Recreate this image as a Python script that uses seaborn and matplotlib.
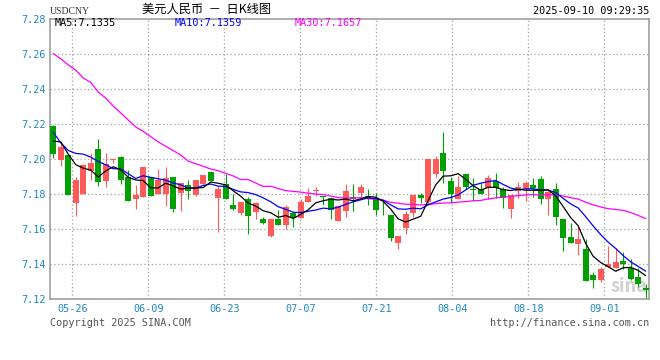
import numpy as np
import pandas as pd
import matplotlib
matplotlib.use("Agg")
import matplotlib.pyplot as plt
import seaborn as sns

# 日K 数据 (USDCNY, 读自图片)
opens = [7.2187, 7.1992, 7.2021, 7.1745, 7.1798, 7.1931, 7.2053, 7.1872, 7.1989, 7.2008,
         7.1893, 7.1768, 7.1779, 7.1893, 7.1796, 7.1798, 7.1897, 7.1804, 7.1846, 7.1790,
         7.1855, 7.1922, 7.1775, 7.1853, 7.1733, 7.1688, 7.1768, 7.1693, 7.1653, 7.1556,
         7.1653, 7.1621, 7.1691, 7.1661, 7.1750, 7.1817, 7.1785, 7.1773, 7.1644, 7.1699,
         7.1779, 7.1804, 7.1785, 7.1777, 7.1697, 7.1676, 7.1516, 7.1602, 7.1690, 7.1790,
         7.1750, 7.1912, 7.2030, 7.1870, 7.1770, 7.1910, 7.1827, 7.1825, 7.1832, 7.1874,
         7.1825, 7.1712, 7.1813, 7.1832, 7.1848, 7.1882, 7.1770, 7.1825, 7.1657, 7.1550,
         7.1512, 7.1482, 7.1333, 7.1303, 7.1379, 7.1375, 7.1417, 7.1375, 7.1322, 7.1261]
highs = [7.2190, 7.2084, 7.2021, 7.1897, 7.1968, 7.2030, 7.2110, 7.2030, 7.1998, 7.2012,
         7.1937, 7.1848, 7.1950, 7.1897, 7.1939, 7.1950, 7.1897, 7.1859, 7.1876, 7.1876,
         7.1905, 7.1931, 7.1842, 7.1910, 7.1796, 7.1750, 7.1779, 7.1749, 7.1665, 7.1653,
         7.1703, 7.1735, 7.1691, 7.1768, 7.1834, 7.1840, 7.1785, 7.1773, 7.1726, 7.1855,
         7.1857, 7.1855, 7.1825, 7.1802, 7.1764, 7.1676, 7.1556, 7.1701, 7.1790, 7.1802,
         7.2000, 7.2013, 7.2152, 7.1893, 7.1899, 7.1910, 7.1886, 7.1859, 7.1903, 7.1916,
         7.1836, 7.1794, 7.1863, 7.1870, 7.1888, 7.1899, 7.1825, 7.1859, 7.1657, 7.1630,
         7.1608, 7.1539, 7.1350, 7.1379, 7.1499, 7.1488, 7.1465, 7.1427, 7.1375, 7.1284]
lows = [7.2004, 7.1956, 7.1790, 7.1669, 7.1798, 7.1878, 7.1844, 7.1836, 7.1973, 7.1855,
        7.1756, 7.1710, 7.1779, 7.1785, 7.1796, 7.1728, 7.1695, 7.1701, 7.1770, 7.1785,
        7.1855, 7.1870, 7.1579, 7.1768, 7.1707, 7.1678, 7.1570, 7.1655, 7.1625, 7.1552,
        7.1621, 7.1598, 7.1611, 7.1661, 7.1750, 7.1787, 7.1735, 7.1655, 7.1644, 7.1667,
        7.1699, 7.1773, 7.1735, 7.1678, 7.1676, 7.1528, 7.1484, 7.1570, 7.1665, 7.1745,
        7.1737, 7.1893, 7.1861, 7.1743, 7.1770, 7.1823, 7.1756, 7.1798, 7.1767, 7.1775,
        7.1718, 7.1661, 7.1775, 7.1760, 7.1779, 7.1741, 7.1676, 7.1621, 7.1472, 7.1518,
        7.1446, 7.1299, 7.1261, 7.1295, 7.1379, 7.1375, 7.1370, 7.1303, 7.1265, 7.1200]
closes = [7.2027, 7.2065, 7.1794, 7.1876, 7.1962, 7.1973, 7.1867, 7.1966, 7.1996, 7.1878,
          7.1756, 7.1790, 7.1950, 7.1785, 7.1878, 7.1891, 7.1712, 7.1859, 7.1817, 7.1876,
          7.1905, 7.1870, 7.1825, 7.1768, 7.1710, 7.1750, 7.1672, 7.1743, 7.1632, 7.1653,
          7.1621, 7.1722, 7.1659, 7.1749, 7.1785, 7.1819, 7.1781, 7.1703, 7.1726, 7.1813,
          7.1768, 7.1836, 7.1771, 7.1707, 7.1693, 7.1547, 7.1556, 7.1682, 7.1790, 7.1775,
          7.2000, 7.2000, 7.1931, 7.1800, 7.1836, 7.1838, 7.1819, 7.1798, 7.1888, 7.1832,
          7.1773, 7.1794, 7.1836, 7.1859, 7.1832, 7.1770, 7.1808, 7.1667, 7.1547, 7.1518,
          7.1539, 7.1299, 7.1303, 7.1370, 7.1396, 7.1411, 7.1398, 7.1314, 7.1284, 7.1246]

# 均线开头部分(窗口之前的数据不可见, 直接读图)
ma5_head = [7.2099, 7.2095, 7.2025, 7.1965]
ma10_head = [7.2150, 7.2090, 7.2046, 7.2029, 7.2025, 7.2008, 7.1983, 7.1964, 7.1942]
ma30_head = [7.2600, 7.2570, 7.2535, 7.2505, 7.2460, 7.2435, 7.2380, 7.2345, 7.2300, 7.2260,
             7.2220, 7.2180, 7.2155, 7.2125, 7.2095, 7.2070, 7.2045, 7.2020, 7.1985, 7.1970,
             7.1955, 7.1940, 7.1930, 7.1915, 7.1900, 7.1880, 7.1880, 7.1860, 7.1840]

tick_pos = [2.55, 12.68, 22.81, 32.95, 43.08, 53.21, 63.35, 73.48]
tick_labels = ['05-26', '06-09', '06-23', '07-07', '07-21', '08-04', '08-18', '09-01']
legend_labels = ['MA5:7.1335', 'MA10:7.1359', 'MA30:7.1657']

df = pd.DataFrame({'open': opens, 'high': highs, 'low': lows, 'close': closes})
df['idx'] = np.arange(len(df))
df['ma5'] = df['close'].rolling(5).mean()
df['ma10'] = df['close'].rolling(10).mean()
df['ma30'] = df['close'].rolling(30).mean()
df.loc[:len(ma5_head) - 1, 'ma5'] = ma5_head
df.loc[:len(ma10_head) - 1, 'ma10'] = ma10_head
df.loc[:len(ma30_head) - 1, 'ma30'] = ma30_head

RED = '#ff5a5a'
GREEN = '#00a000'
BLUE_TXT = '#1f86c8'
MONO = 'DejaVu Sans Mono'

sns.set_style("white")
plt.rcParams['font.family'] = ['Noto Sans CJK SC', 'DejaVu Sans']

fig = plt.figure(figsize=(6.6, 3.6), dpi=100)
W, H = 660, 360
ax = fig.add_axes([50 / W, 1 - 298.5 / H, 599.3 / W, 280 / H])

up = df['close'] >= df['open']
colors = np.where(up, RED, GREEN)

# 网格 (点线)
for y in np.arange(7.14, 7.27, 0.02):
    ax.axhline(y, color='#a6a6a6', lw=0.9, ls=(0, (1.1, 1.9)), zorder=0)
for x in tick_pos:
    ax.axvline(x, color='#a6a6a6', lw=0.9, ls=(0, (1.1, 1.9)), zorder=0)

# K线
ax.vlines(df['idx'], df['low'], df['high'], colors=colors, lw=0.8, zorder=2)
body = (df['close'] - df['open']).abs().clip(lower=0.0004)
bottom = df[['open', 'close']].min(axis=1)
ax.bar(df['idx'], body, bottom=bottom, width=0.78, color=colors, lw=0, zorder=3)

# 均线
sns.lineplot(x=df['idx'], y=df['ma30'], ax=ax, color='#ff00ff', lw=0.9, zorder=4)
sns.lineplot(x=df['idx'], y=df['ma10'], ax=ax, color='#0000ff', lw=0.9, zorder=5)
sns.lineplot(x=df['idx'], y=df['ma5'], ax=ax, color='black', lw=0.9, zorder=6)

ax.set_xlim(-0.43, 79.48)
ax.set_ylim(7.12, 7.28)
ax.set_yticks(np.round(np.arange(7.12, 7.281, 0.02), 2))
ax.set_yticklabels([f'{v:.2f}' for v in np.arange(7.12, 7.281, 0.02)],
                   fontsize=7.3, color=BLUE_TXT, family=MONO)
ax.set_xticks(tick_pos)
ax.set_xticklabels(tick_labels, fontsize=7.3, color=BLUE_TXT, family=MONO)
ax.tick_params(axis='y', length=0, pad=3)
ax.tick_params(axis='x', length=0, pad=4)
ax.set_xlabel('')
ax.set_ylabel('')
for s in ax.spines.values():
    s.set_color('#a0a0a0')
    s.set_linewidth(1.2)

# 水印
ax.text(0.997, 0.01, 'sina', transform=ax.transAxes, ha='right', va='bottom',
        fontsize=13, fontweight='bold', style='italic', color='#d0d0d0', zorder=1)

# 文本
fig.text(50 / W, 1 - 12 / H, 'USDCNY', fontsize=7, family='Liberation Serif',
         ha='left', va='center', color='#333333')
fig.text(207 / W, 1 - 9.5 / H, '美元人民币  －  日K线图', fontsize=8.8, ha='center',
         va='center', color='black')
fig.text(649 / W, 1 - 11.5 / H, '2025-09-10 09:29:35', fontsize=7.3, family=MONO,
         ha='right', va='center', color='black')
leg_x = [55, 175, 295]
leg_c = ['black', '#0000ff', '#ff00ff']
for lx, lab, c in zip(leg_x, legend_labels, leg_c):
    fig.text(lx / W, 1 - 23.5 / H, lab, fontsize=7.3, family=MONO, ha='left',
             va='center', color=c)
fig.text(50 / W, 1 - 323 / H, 'Copyright 2025 SINA.COM', fontsize=7.3, family=MONO,
         ha='left', va='center', color='#555555')
fig.text(649 / W, 1 - 323 / H, 'http://finance.sina.com.cn', fontsize=7.3, family=MONO,
         ha='right', va='center', color='#555555')

fig.savefig('out.png', dpi=100, facecolor='white')
